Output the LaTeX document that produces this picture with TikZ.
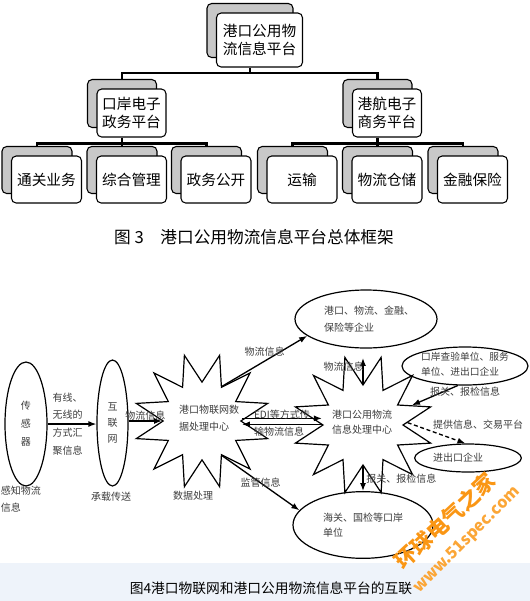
\documentclass[tikz,border=0pt]{standalone}
\usepackage{fontspec}
\setmainfont{Noto Sans CJK SC}
\usetikzlibrary{arrows.meta,positioning,shapes.geometric,calc}
\definecolor{shadegray}{RGB}{200,200,200}
\definecolor{bandblue}{RGB}{238,243,250}
\definecolor{wmorange}{RGB}{250,150,20}
\definecolor{inkgray}{RGB}{60,60,60}
\newcommand\treefont{\fontsize{11}{13.5}\selectfont}
\newcommand\netfont{\fontsize{7.5}{12.75}\selectfont}
\tikzset{
  backbox/.style={rectangle,rounded corners=3.5pt,draw,line width=0.8pt,
                  fill=shadegray},
  frontbox/.style={rectangle,rounded corners=3.5pt,draw,line width=0.8pt,
                   fill=white,font=\treefont,align=center,inner sep=1pt},
  rootsize/.style={minimum width=64.5pt,minimum height=40.5pt},
  midsize/.style={minimum width=51.75pt,minimum height=36pt},
  leafsize/.style={minimum width=52.5pt,minimum height=35.25pt},
  tline/.style={line width=1.8pt},
  oval/.style={ellipse,draw,line width=0.9pt,inner sep=1pt},
  burst/.style={star,star points=12,star point ratio=1.75,draw,
                line width=0.9pt,shape border rotate=15},
  arr/.style={line width=1pt,-{Latex[length=6pt,width=4.5pt]}},
  dasharr/.style={arr,dash pattern=on 3pt off 2pt},
  lbl/.style={font=\netfont,text=inkgray,inner sep=1pt,align=left},
}
\begin{document}
\begin{tikzpicture}[x=0.75pt,y=-0.75pt]
  \useasboundingbox (0,0) rectangle (530,601);
  \fill[bandblue] (0,563) rectangle (530,601);

  %% Fig. 3 -- platform tree
  \node[backbox,rootsize] (rootS) at (250,30.5) {};
  \node[frontbox,rootsize] (root) at (259.5,40) {港口公用物\\流信息平台};

  \node[backbox,midsize] (kaS) at (122,103.5) {};
  \node[frontbox,midsize] (ka) at (131.5,113) {口岸电子\\政务平台};
  \node[backbox,midsize] (ghS) at (377.5,103.5) {};
  \node[frontbox,midsize] (gh) at (387,113) {港航电子\\商务平台};

  \foreach \nm/\x/\txt in {tg/46.5/通关业务, zh/131.5/综合管理, zw/216/政务公开,
                           ys/302/运输, wl/387/物流仓储, jr/472.5/金融保险}{
    \node[backbox,leafsize] (\nm-s) at (\x-9.5,170) {};
    \node[frontbox,leafsize] (\nm) at (\x,179.5) {\txt};
  }

  \draw[tline] (rootS.south |- root.south) -- ++(0,5.5) coordinate (b1);
  \draw[tline] (kaS.north) |- (b1) -| (ghS.north);
  \draw[tline] (kaS.south |- ka.south) -- ++(0,6) coordinate (b2);
  \draw[tline] (tg-s.north) |- (b2) -| (zw-s.north);
  \draw[tline] (b2) -- (zh-s.north);
  \draw[tline] (ghS.south |- gh.south) -- ++(0,6) coordinate (b3);
  \draw[tline] (ys-s.north) |- (b3) -| (jr-s.north);
  \draw[tline] (b3) -- (wl-s.north);

  \node[font=\fontsize{12.5}{15}\selectfont] (cap3) at (254,237)
    {图 3\quad 港口公用物流信息平台总体框架};

  %% Fig. 4 -- IoT and platform
  \node[oval,lbl,align=center,font=\fontsize{7.5}{13.5}\selectfont,
        minimum width=31.5pt,minimum height=93pt] (sensor) at (26,424) {传\\感\\器};
  \node[lbl] (sensorL) at (21,499.5) {\fontsize{7.5}{11.25}\selectfont 感知物流\\信息};

  \node[oval,lbl,align=center,font=\fontsize{7.5}{12}\selectfont,
        minimum width=23.25pt,minimum height=94.5pt] (net) at (112.5,423) {互\\联\\网};
  \node[lbl] (netL) at (111,497) {承载传送};

  \node[burst,minimum size=102pt] (iot) at (202,421) {};
  \node[lbl] (iotT) at (209,418.5) {港口物联网数\\据处理中心};
  \node[lbl] (iotL) at (193,496) {数据处理};

  \node[burst,minimum size=105pt] (plat) at (363,425) {};
  \node[lbl,font=\fontsize{7.5}{11.25}\selectfont] (platT) at (362,422.5)
    {港口公用物流\\信息处理中心};

  \node[oval,minimum width=106.5pt,minimum height=43.5pt] (firms) at (366,319) {};
  \node[lbl] (firmsT) at (369,319.5) {港口、物流、金融、\\保险等企业};

  \node[oval,minimum width=94.5pt,minimum height=28.5pt] (insp) at (465,366) {};
  \node[lbl,font=\fontsize{7.3}{11.25}\selectfont] (inspT) at (465,364.5)
    {口岸查验单位、服务\\单位、进出口企业};

  \node[oval,minimum width=80pt,minimum height=21pt] (trade) at (468,458) {};
  \node[lbl] (tradeT) at (458,458) {进出口企业};

  \node[oval,minimum width=105pt,minimum height=50pt] (customs) at (363,525) {};
  \node[lbl,font=\fontsize{7.5}{11.25}\selectfont] (customsT) at (363,525.5)
    {海关、国检等口岸\\单位};

  %% connectors
  \draw[arr] (sensor.east) -- node[lbl,pos=0.41,align=left,
      font=\fontsize{7.5}{13.3}\selectfont]{有线、\\无线的\\方式汇\\聚信息}
    (sensor.east -| net.west);
  \draw[arr] (iot.180 -| net.east) -- node[lbl,above=-1pt]{物流信息} (iot.180);
  \draw[arr] (iot.60) -- node[lbl,pos=0.5,above=2pt]{物流信息} (firms.196);
  \draw[arr,shorten >=7pt] (plat.90) -- node[lbl,left=-2pt]{物流信息}
    (plat.90 |- firms.south);
  \draw[arr] ([yshift=2pt]iot.0) -- ([yshift=2pt]iot.0 -| plat.180);
  \draw[arr] ([yshift=-2.5pt]iot.0 -| plat.180) -- ([yshift=-2.5pt]iot.0);
  \node[lbl,font=\fontsize{7.5}{13}\selectfont] (ediT)
    at ($(iot.0)!0.5!(plat.180)$) {EDI等方式传\\输物流信息};
  \draw[arr] (insp.250) -- (plat.22);
  \node[lbl,below=0pt of insp.south] (inspL) {报关、报检信息};
  \draw[dasharr] (plat.3) -- (trade.100);
  \node[lbl] (tradeL) at ($(trade.north)+(10,-19)$) {提供信息、交易平台};
  \draw[arr] (plat.270) -- node[lbl,right=1pt]{报关、报检信息}
    (plat.270 |- customs.north);
  \draw[arr] (iot.300) -- node[lbl,pos=0.5]{监管信息} (customs.167);

  \node[font=\fontsize{10.3}{12}\selectfont] (cap4) at (271,588)
    {图4港口物联网和港口公用物流信息平台的互联};

  %% watermark
  \node[rotate=43,text=wmorange,font=\fontsize{16}{18}\selectfont\bfseries]
    (wm1) at (445,521) {环球电气之家};
  \node[rotate=45,text=wmorange!85,font=\fontsize{12}{14}\selectfont\bfseries]
    (wm2) at (467,540) {www.51spec.com};
\end{tikzpicture}
\end{document}
